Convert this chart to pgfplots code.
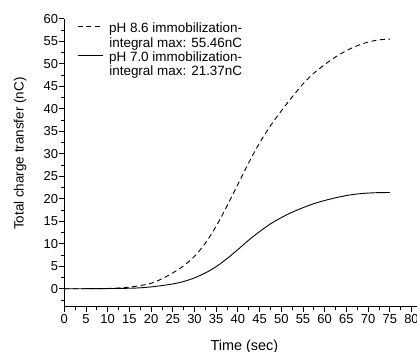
\documentclass[border=0pt]{standalone}
\usepackage{pgfplots}
\pgfplotsset{compat=1.18}
\usepackage{fontspec}
\setmainfont{Liberation Sans}
\pgfplotstableread{
t q
0 0
5 0
10 0.05
12.5 0.15
15 0.35
17.5 0.7
20 1.2
22.5 2.2
25 3.5
27.5 5.1
30 7.2
32.5 10.1
35 13.9
37.5 18.4
40 23.2
42.5 28.0
45 32.4
47.5 36.2
50 39.5
52.5 42.6
55 45.5
57.5 47.9
60 49.8
62.5 51.5
65 52.9
67.5 54.0
70 54.8
72.5 55.3
75 55.46
}\phhigh
\pgfplotstableread{
t q
0 0
5 0
10 0.03
15 0.1
17.5 0.2
20 0.4
22.5 0.7
25 1.05
27.5 1.6
30 2.4
32.5 3.5
35 4.9
37.5 6.7
40 8.7
42.5 10.8
45 12.7
47.5 14.4
50 15.8
52.5 17.0
55 18.0
57.5 18.9
60 19.6
62.5 20.2
65 20.7
67.5 21.05
70 21.25
72.5 21.35
75 21.37
}\phlow
\begin{document}
\begin{tikzpicture}
\begin{axis}[
  x=4.34bp, y=4.5bp,
  xmin=0, xmax=81.2, ymin=-4, ymax=60,
  axis x line=bottom, axis y line=left,
  axis line style={-, line width=0.8bp},
  xtick={0,5,...,80}, ytick={0,5,...,60},
  minor xtick={2.5,7.5,...,77.5},
  minor ytick={-2.5,2.5,...,57.5},
  tick align=outside,
  major tick length=5bp, minor tick length=3bp,
  tick style={line width=0.8bp, black},
  ticklabel style={font=\fontsize{13}{15}\selectfont},
  /pgf/number format/assume math mode=true,
  xticklabel style={inner xsep=1bp, inner ysep=2.5bp},
  yticklabel style={inner sep=1bp},
  xlabel={Time (sec)},
  ylabel={Total charge transfer (nC)},
  xlabel style={at={(axis cs:41.5,-12.9)}, anchor=center, font=\fontsize{14.5}{17}\selectfont},
  ylabel style={at={(axis cs:-10.2,30)}, anchor=center, font=\fontsize{13.5}{16}\selectfont},
  legend cell align=right,
  legend style={at={(axis cs:2.93,59.4)}, anchor=north west, draw=none, fill=none,
    inner sep=0pt, row sep=0.5bp, column sep=3bp,
    font=\fontsize{13.5}{15}\selectfont,
    nodes={align=right, inner ysep=1bp, inner xsep=3bp}},
  legend image code/.code={\draw[#1] (0bp,8.8bp) -- (25bp,8.8bp);},
]
\addplot[black, line width=0.9bp, dash pattern=on 5bp off 3.5bp, smooth] table[x=t,y=q] {\phhigh};
\addlegendentry{pH 8.6 immobilization-\\integral max: 55.46nC}
\addplot[black, line width=0.9bp, smooth] table[x=t,y=q] {\phlow};
\addlegendentry{pH 7.0 immobilization-\\integral max: 21.37nC}
\coordinate (O) at (axis cs:0,0);
\end{axis}
\pgfresetboundingbox
\path[use as bounding box] (O) ++(-64.3bp,-63.3bp) rectangle ++(417bp,352bp);
\end{tikzpicture}
\end{document}
